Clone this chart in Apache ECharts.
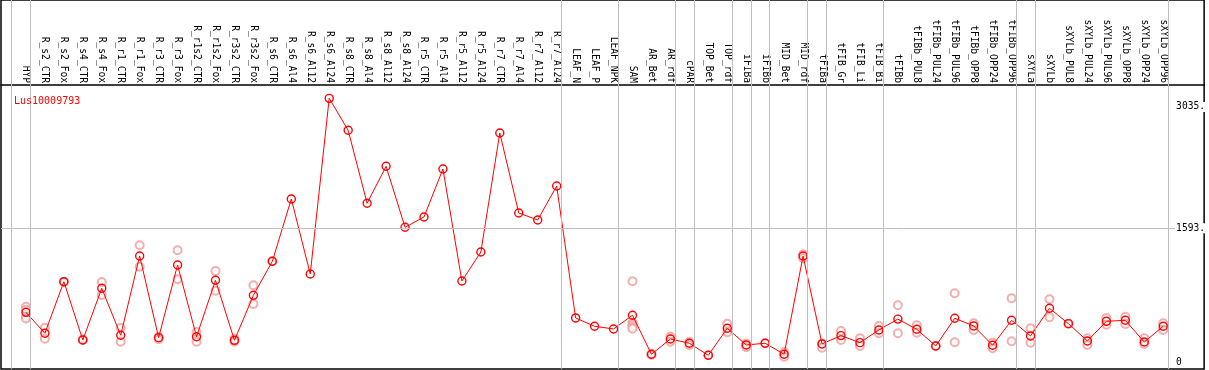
<!DOCTYPE html>
<html><head><meta charset="utf-8">
<script src="https://cdn.jsdelivr.net/npm/echarts@6/dist/echarts.min.js"></script>
<style>html,body{margin:0;padding:0;background:#fff}#c{width:1209px;height:370px}</style>
</head><body><div id="c"></div><script>
const title = 'Lus10009793';
const categories = ['HYP','R_s2_CTR','R_s2_Fox','R_s4_CTR','R_s4_Fox','R_r1_CTR','R_r1_Fox','R_r3_CTR','R_r3_Fox','R_r1s2_CTR','R_r1s2_Fox','R_r3s2_CTR','R_r3s2_Fox','R_s6_CTR','R_s6_Al4','R_s6_Al12','R_s6_Al24','R_s8_CTR','R_s8_Al4','R_s8_Al12','R_s8_Al24','R_r5_CTR','R_r5_Al4','R_r5_Al12','R_r5_Al24','R_r7_CTR','R_r7_Al4','R_r7_Al12','R_r7_Al24','LEAF_N','LEAF_P','LEAF_NPK','SAM','AR_Bet','AR_rdf','cPAR','TOP_Bet','TOP_rdf','iFIBa','iFIBb','MID_Bet','MID_rdf','tFIBa','tFIB_Gr','tFIB_Li','tFIB_Bi','tFIBb','tFIBb_PUL8','tFIBb_PUL24','tFIBb_PUL96','tFIBb_OPP8','tFIBb_OPP24','tFIBb_OPP96','sXYLa','sXYLb','sXYLb_PUL8','sXYLb_PUL24','sXYLb_PUL96','sXYLb_OPP8','sXYLb_OPP24','sXYLb_OPP96'];
const means = [594,345,958,265,880,321,1264,293,1157,304,975,261,796,1201,1941,1050,3138,2758,1890,2330,1605,1727,2298,966,1311,2726,1775,1692,2096,527,428,396,559,95,277,226,83,404,206,226,95,1264,218,317,233,384,513,392,194,523,432,202,499,313,642,459,253,487,499,241,428];
const replicates = [[660,625,545,520],[410,280],[958],[265,270],[955,800],[410,245],[1391,1137],[300,275],[1331,987],[360,245],[1085,851],[280,245],[915,693],[1201],[],[],[],[],[],[],[],[],[],[],[],[],[],[],[],[],[],[],[963,470,445,420,400],[95,90],[304,245],[240,206],[83],[459,357],[224,178],[226],[122,67],[1284,1236],[224,174],[372,265],[285,194],[431,345],[678,345],[440,352],[194],[820,238],[464,384],[233,166],[761,250],[404,233],[749,535],[459],[285,206],[527,447],[542,455],[285,218],[464,384]];
const groupEnds = [-1,0,28,31,34,35,37,38,39,41,42,45,52,53,60];
const yTickValues = [0,1593,3035];
const gridLineValue = 1593;

const MONO = 'DejaVu Sans Mono';
const repData = [];
replicates.forEach((arr,i)=>arr.forEach(v=>repData.push([i,v])));
const meanData = means.map((v,i)=>[i,v]);
const sepLines = groupEnds.map(i=>({xAxis: i===-1 ? i+0.2 : i+0.245}));

const chart = echarts.init(document.getElementById('c'), null, {renderer:'canvas'});
chart.setOption({
  animation:false,
  backgroundColor:'#fff',
  title:{text:title,left:9,top:91,textStyle:{color:'#f00',fontSize:10,fontWeight:'normal',fontFamily:MONO}},
  grid:{left:1,right:2,top:0,bottom:1,show:true,borderColor:'#000',borderWidth:1.5,backgroundColor:'transparent'},
  xAxis:{type:'value',position:'top',offset:-85,min:-1.3158,max:62.158,
    axisLine:{show:true,onZero:false,lineStyle:{color:'#000',width:1.5}},
    axisTick:{show:false},splitLine:{show:false},
    axisLabel:{customValues:categories.map((_,i)=>i),formatter:v=>categories[Math.round(v)]||'',rotate:90,margin:2,fontFamily:MONO,fontSize:9.6,color:'#000'}},
  yAxis:{type:'value',position:'right',min:-80,max:4307,z:10,
    axisLine:{show:false},axisTick:{show:false},splitLine:{show:false},
    axisLabel:{inside:true,customValues:yTickValues,formatter:v=>v===0?'0':v+'.',align:'left',margin:29,backgroundColor:'#fff',padding:[0,1],fontFamily:MONO,fontSize:9.6,color:'#000'}},
  series:[
    {type:'scatter',data:repData,symbol:'emptyCircle',symbolSize:8,z:2,
      itemStyle:{color:'#f09a9a',borderColor:'#f09a9a',borderWidth:1.1},
      markLine:{silent:true,symbol:['none','none'],animation:false,label:{show:false},
        lineStyle:{color:'#c0c0c0',width:1,type:'solid'},
        data:[...sepLines,{yAxis:gridLineValue}]}},
    {type:'line',data:meanData,symbol:'circle',symbolSize:8,z:3,
      lineStyle:{color:'#f00',width:1},
      itemStyle:{color:'rgba(255,255,255,0)',borderColor:'#f00',borderWidth:1.4}}
  ]
});
</script></body></html>
